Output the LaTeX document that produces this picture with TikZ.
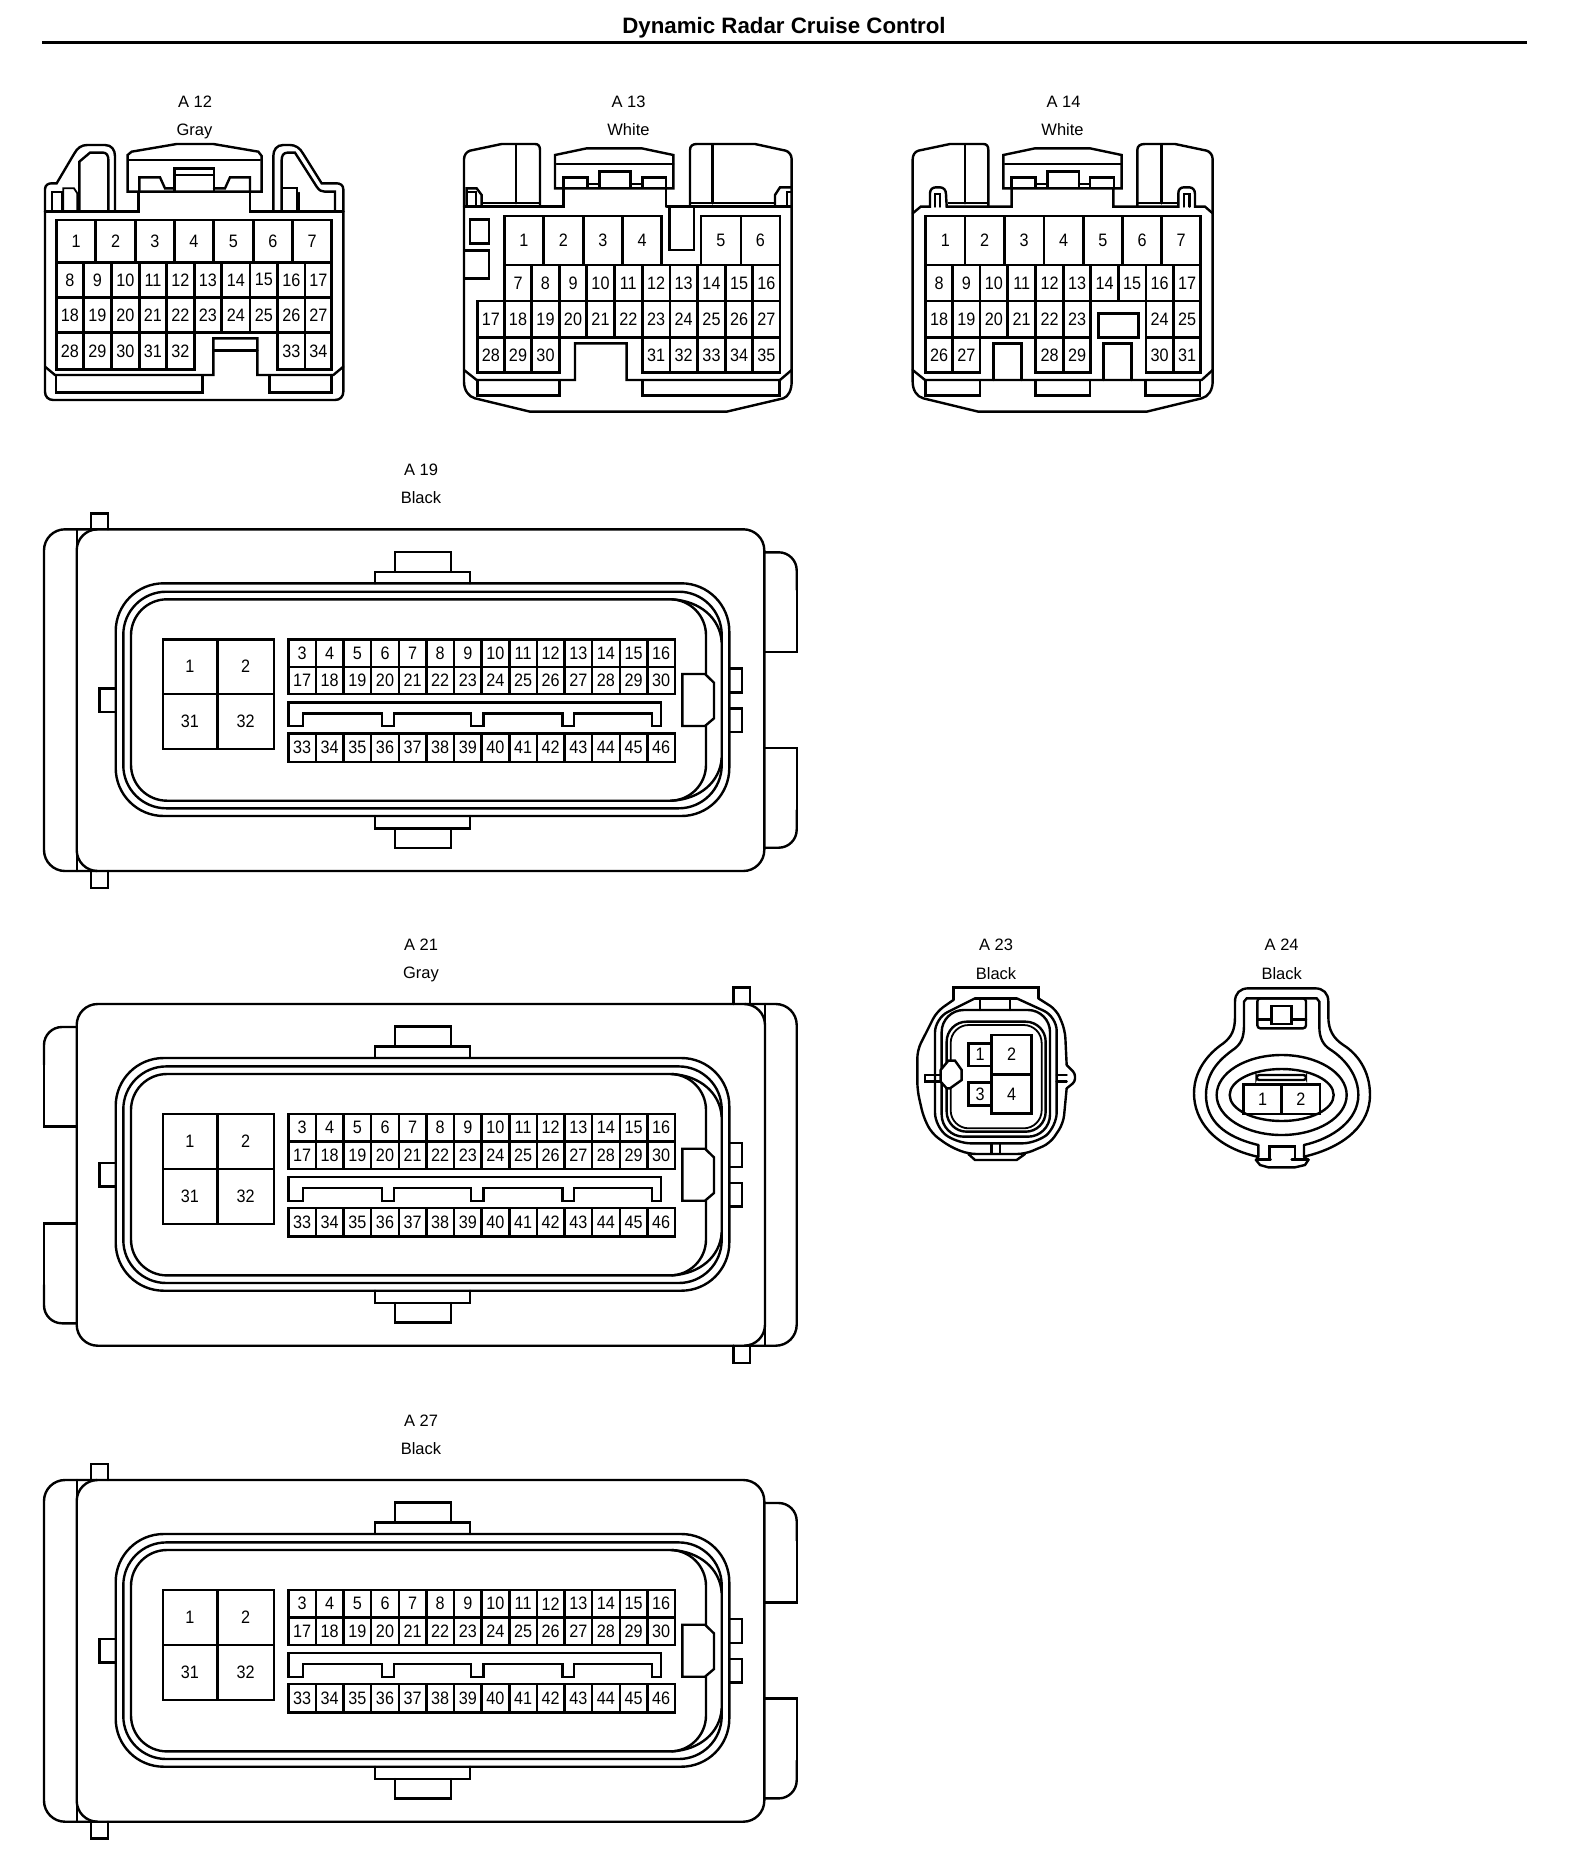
\documentclass[tikz,border=0pt]{standalone}
\usepackage{fontspec}
\setmainfont{Liberation Sans}
\newfontfamily\pinfont[FakeStretch=0.9]{Liberation Sans}
\def\nonexa{none}
\def\cpre{c}
\tikzset{
  part/.style={line width=2.4pt,line join=miter,line cap=round,draw=black},
  thinpart/.style={line width=1.8pt,line cap=round,draw=black},
  pinlabel/.style={inner sep=0pt,font=\pinfont\fontsize{18}{20}\selectfont},
  caption/.style={inner sep=0pt,anchor=base,font=\fontsize{16.5}{18}\selectfont},
  titlelabel/.style={inner sep=0pt,font=\bfseries\fontsize{22.3}{24}\selectfont},
  inzoom/.style={x=.33333pt,y=-.33333pt}
}
% one row of cells: top, bottom, first pin number, list of cell borders
\newcommand\cells[4]{%
  \pgfmathtruncatemacro\cellstart{#3-1}%
  \foreach \xb [remember=\xb as \xa (initially none),count=\ci from \cellstart] in {#4}{%
    \ifx\xa\nonexa\else
      \draw[part] (\xa,#1) rectangle node[pinlabel] (\cpre-\ci) {\ci} (\xb,#2);
    \fi
  }%
}
% the parts shared by the three large connectors (picture pixels, A19 position)
\newcommand\bigbody{%
  % top and bottom latches
  \draw[part] (375,583.3)--(375,571.7)--(470,571.7)--(470,583.3);
  \draw[part] (395,571.7)--(395,551.7)--(450.7,551.7)--(450.7,571.7);
  \draw[part] (375,816)--(375,828.3)--(470,828.3)--(470,816);
  \draw[part] (395,828.3)--(395,847.7)--(450.7,847.7)--(450.7,828.3);
  % seal rings
  \draw[part,rounded corners=48pt] (115.7,583.3) rectangle (729.3,816);
  \draw[part,rounded corners=43pt] (123.3,591.7) rectangle (721.7,808.3);
  \draw[part,rounded corners=36pt] (706,674)--(706,599.3)--(131,599.3)--(131,800.7)--(706,800.7)--(706,726);
  \draw[part] (672,599.3) .. controls (700,601) and (720,618) .. (721.7,642);
  \draw[part] (672,800.7) .. controls (700,799) and (720,782) .. (721.7,758);
  % key and side pins
  \draw[part] (682.3,674)--(705,674)--(714,682.7)--(714,718.3)--(705,726)--(682.3,726)--cycle;
  \draw[part] (115.7,688.3)--(99.3,688.3)--(99.3,711.7)--(115.7,711.7);
  \draw[part] (730,668.3)--(741.7,668.3)--(741.7,692.3)--(730,692.3);
  \draw[part] (730,708.3)--(741.7,708.3)--(741.7,731.7)--(730,731.7);
  % key strip between the cell rows
  \draw[part] (288.3,726)--(288.3,702.3)--(660.7,702.3)--(660.7,726)--(651.7,726)--(651.7,713.3)--(574,713.3)--(574,726)--(562.3,726)--(562.3,713.3)--(483.3,713.3)--(483.3,726)--(471,726)--(471,713.3)--(394,713.3)--(394,726)--(381.7,726)--(381.7,713.3)--(302.7,713.3)--(302.7,726)--cycle;
  % cells
  \draw[part] (162.7,639.3) rectangle node[pinlabel] (\cpre-1) {1} (217.3,694);
  \draw[part] (217.3,639.3) rectangle node[pinlabel] (\cpre-2) {2} (274,694);
  \draw[part] (162.7,694) rectangle node[pinlabel] (\cpre-31) {31} (217.3,749);
  \draw[part] (217.3,694) rectangle node[pinlabel] (\cpre-32) {32} (274,749);
  \cells{639.3}{666.7}{3}{288.3,315.9,343.5,371.2,398.8,426.4,454,481.6,509.3,536.9,564.5,592.1,619.7,647.4,675}
  \cells{666.7}{694}{17}{288.3,315.9,343.5,371.2,398.8,426.4,454,481.6,509.3,536.9,564.5,592.1,619.7,647.4,675}
  \cells{733.3}{761.7}{33}{288.3,315.9,343.5,371.2,398.8,426.4,454,481.6,509.3,536.9,564.5,592.1,619.7,647.4,675}
}
% housing with its cap on the left and tabs on the right
\newcommand\capleft{%
  \draw[part,rounded corners=21pt] (76.7,529.3) rectangle (764.3,871);
  \draw[part,rounded corners=21pt] (97,529.3)--(44,529.3)--(44,871)--(97,871);
  \draw[part] (76.7,529.3)--(76.7,871);
  \draw[part] (91,529.3)--(91,513.3)--(107.7,513.3)--(107.7,529.3);
  \draw[part] (91,871)--(91,887.7)--(107.7,887.7)--(107.7,871);
  \draw[part,rounded corners=18pt] (764.3,552.3)--(796.7,552.3)--(796.7,590);
  \draw[part] (796.7,585)--(796.7,651.7)--(764.3,651.7);
  \draw[part] (764.3,747.7)--(796.7,747.7)--(796.7,815);
  \draw[part,rounded corners=18pt] (796.7,810)--(796.7,847.7)--(764.3,847.7);
}
% housing with its tabs on the left and cap on the right
\newcommand\capright{%
  \draw[part,rounded corners=21pt] (76.7,529.3) rectangle (765,871);
  \draw[part,rounded corners=21pt] (745,529.3)--(796.7,529.3)--(796.7,871)--(745,871);
  \draw[part] (765,529.3)--(765,871);
  \draw[part] (733.3,529.3)--(733.3,512.6)--(750,512.6)--(750,529.3);
  \draw[part] (733.3,871)--(733.3,888)--(750,888)--(750,871);
  \draw[part,rounded corners=18pt] (76.7,552.3)--(44,552.3)--(44,590);
  \draw[part] (44,585)--(44,651.7)--(76.7,651.7);
  \draw[part] (76.7,748.6)--(44,748.6)--(44,815);
  \draw[part,rounded corners=18pt] (44,810)--(44,848.6)--(76.7,848.6);
}
\begin{document}
\begin{tikzpicture}[x=1pt,y=-1pt]
\useasboundingbox (0,0) rectangle (1584,1874);
\fill[white] (0,0) rectangle (1584,1874);
% title
\node[titlelabel] (title) at (784,28) {Dynamic Radar Cruise Control};
\coordinate (ruleL) at (42,42);
\coordinate (ruleR) at (1527,42);
\draw[line width=3pt] (ruleL) -- (ruleR);
% captions
\node[caption] (cA12) at (195,107.5) {A 12};
\node[caption] (gA12) at (194.5,135) {Gray};
\node[caption] (cA13) at (628.5,107.5) {A 13};
\node[caption] (gA13) at (628.5,135) {White};
\node[caption] (cA14) at (1063.5,107.5) {A 14};
\node[caption] (gA14) at (1062.5,135) {White};
\node[caption] (cA19) at (421,475.5) {A 19};
\node[caption] (gA19) at (421,503) {Black};
\node[caption] (cA21) at (421,950.5) {A 21};
\node[caption] (gA21) at (421,978.5) {Gray};
\node[caption] (cA27) at (421,1426.5) {A 27};
\node[caption] (gA27) at (421,1454) {Black};
\node[caption] (cA23) at (996,950.5) {A 23};
\node[caption] (gA23) at (996,979) {Black};
\node[caption] (cA24) at (1281.7,950.5) {A 24};
\node[caption] (gA24) at (1281.7,979) {Black};

% ---------- A12 ----------
\begin{scope}[shift={(0,80)},inzoom]
\def\cpre{a12}
\draw[part] (135,395)--(135,328) .. controls (135,315) and (145,310) .. (155,310)--(170,310)--(222,222) .. controls (232,203) and (245,195) .. (262,195)--(315,195) .. controls (335,195) and (345,210) .. (345,228)--(345,392);
\draw[thinpart] (155,392)--(155,335)--(185,335)--(185,392);
\draw[thinpart] (190,392)--(190,325)--(222,325)--(232,340)--(232,392);
\draw[part] (238,392)--(238,245)--(270,218)--(310,218) .. controls (320,218) and (325,228) .. (325,238)--(325,392);
\draw[part] (135,395)--(415,395)--(415,335);
\draw[part] (750,335)--(750,395)--(1030,395);
\draw[part] (383,335)--(383,225)--(395,215)--(530,192)--(640,192)--(775,215)--(785,228)--(785,335)--cycle;
\draw[part] (388,240)--(780,240);
\draw[part] (418,332)--(418,292)--(480,292)--(495,325)--(523,325);
\draw[part] (523,332)--(523,265)--(642,265)--(642,332);
\draw[thinpart] (525,285)--(640,285);
\draw[part] (642,325)--(675,325)--(690,292)--(750,292)--(750,335);
\draw[part] (1030,395)--(1030,328) .. controls (1030,315) and (1020,310) .. (1010,310)--(965,310)--(910,222) .. controls (900,203) and (885,195) .. (870,195)--(850,195) .. controls (830,195) and (820,210) .. (820,228)--(820,392);
\draw[part] (845,392)--(845,240) .. controls (845,228) and (850,218) .. (862,218)--(885,218)--(950,320) .. controls (958,332) and (965,335) .. (975,335)--(1005,335)--(1005,392);
\draw[thinpart] (850,325)--(890,325)--(890,392);
\draw[thinpart] (898,392)--(898,338);
\draw[part] (135,395)--(135,935) .. controls (135,950) and (145,960) .. (160,960)--(1005,960) .. controls (1020,960) and (1030,950) .. (1030,935)--(1030,395);
\draw[part] (135,860)--(165,885)--(640,885)--(640,775)--(772,775)--(772,885)--(1000,885)--(1030,860);
\draw[part] (640,812)--(772,812);
\draw[part] (168,885)--(168,937)--(607,937)--(607,887);
\draw[part] (808,887)--(808,937)--(995,937)--(995,885);
\cells{420}{547}{1}{170,287,407,523,641,760,878,995}
\cells{547}{652}{8}{170,250,335,418,500,583,665,750,833,915,995}
\cells{652}{758}{18}{170,250,335,418,500,583,665,750,833,915,995}
\cells{758}{868}{28}{170,250,335,418,500,583}
\cells{758}{868}{33}{833,915,995}
\end{scope}

% ---------- A13 ----------
\begin{scope}[shift={(440,80)},inzoom]
\def\cpre{a13}
\draw[part] (300,380)--(300,210) .. controls (300,198) and (295,192) .. (285,192)--(185,192)--(90,212) .. controls (80,215) and (72,225) .. (72,238)--(72,905) .. controls (72,930) and (85,950) .. (105,955)--(270,995)--(860,995)--(1030,955) .. controls (1045,950) and (1055,930) .. (1055,905)--(1055,238) .. controls (1055,225) and (1047,215) .. (1037,212)--(945,192)--(770,192) .. controls (758,192) and (750,198) .. (750,210)--(750,380);
\draw[part] (228,195)--(228,370);
\draw[part] (818,195)--(818,370);
\draw[part] (72,380)--(108,380)--(370,380)--(370,325);
\draw[part] (80,380)--(80,325)--(110,325)--(125,345)--(125,380);
\draw[thinpart] (108,380)--(108,335)--(85,335);
\draw[thinpart] (130,368)--(300,368);
\draw[thinpart] (750,368)--(1003,368);
\draw[part] (680,380)--(1052,380);
\draw[part] (1005,380)--(1005,345)--(1020,322)--(1052,322);
\draw[thinpart] (1040,380)--(1040,335)--(1052,335);
\draw[part] (345,325)--(345,225)--(440,205)--(605,205)--(700,225)--(700,325)--cycle;
\draw[part] (350,252)--(700,252);
\draw[part] (370,322)--(370,293)--(442,293)--(442,322);
\draw[part] (445,312)--(478,312);
\draw[part] (478,322)--(478,275)--(572,275)--(572,322);
\draw[part] (572,312)--(607,312);
\draw[part] (607,322)--(607,293)--(678,293)--(678,380);
\draw[part] (688,380)--(688,510)--(762,510)--(762,380);
\draw[part] (90,418)--(147,418)--(147,490)--(90,490)--cycle;
\draw[part] (74,512)--(147,512)--(147,595)--(74,595);
\draw[part] (72,870)--(110,900)--(405,900)--(405,790)--(560,790)--(560,900)--(1020,900)--(1055,870);
\draw[part] (112,900)--(112,947)--(358,947)--(358,903);
\draw[part] (607,903)--(607,947)--(1018,947)--(1018,900);
\cells{408}{555}{1}{193,310,430,547,665}
\cells{408}{555}{5}{783,903,1020}
\cells{555}{663}{7}{193,275,358,440,523,607,690,772,857,938,1020}
\cells{663}{772}{17}{112,193,275,358,440,523,607,690,772,857,938,1020}
\cells{772}{878}{28}{112,193,275,358}
\cells{772}{878}{31}{607,690,772,857,938,1020}
\end{scope}

% ---------- A14 ----------
\begin{scope}[shift={(890,80)},inzoom]
\def\cpre{a14}
\draw[part] (295,380)--(295,210) .. controls (295,198) and (290,192) .. (280,192)--(180,192)--(85,212) .. controls (75,215) and (68,225) .. (68,238)--(68,905) .. controls (68,930) and (80,950) .. (100,955)--(265,995)--(770,995)--(935,955) .. controls (955,950) and (968,930) .. (968,905)--(968,238) .. controls (968,225) and (960,215) .. (950,212)--(855,192)--(765,192) .. controls (750,192) and (742,198) .. (742,210)--(742,380);
\draw[part] (225,195)--(225,370);
\draw[part] (815,195)--(815,370);
\draw[part] (68,400)--(92,380)--(120,380)--(120,340) .. controls (120,328) and (128,322) .. (138,322)--(150,322) .. controls (160,322) and (168,330) .. (168,342)--(170,380)--(365,380)--(365,325);
\draw[part] (135,380)--(135,342)--(150,342)--(150,380);
\draw[thinpart] (175,368)--(295,368);
\draw[part] (670,325)--(670,380)--(865,380)--(865,340) .. controls (865,328) and (872,322) .. (882,322)--(898,322) .. controls (908,322) and (915,330) .. (915,342)--(915,380)--(945,380)--(968,400);
\draw[part] (882,380)--(882,342)--(898,342)--(898,380);
\draw[thinpart] (745,368)--(865,368);
\draw[part] (340,325)--(340,225)--(435,205)--(600,205)--(695,225)--(695,325)--cycle;
\draw[part] (345,252)--(695,252);
\draw[part] (365,322)--(365,293)--(437,293)--(437,322);
\draw[part] (440,312)--(473,312);
\draw[part] (473,322)--(473,275)--(567,275)--(567,322);
\draw[part] (567,312)--(600,312);
\draw[part] (600,322)--(600,293)--(672,293)--(672,325);
\draw[part] (625,700) rectangle (745,772);
\draw[part] (310,900)--(310,790)--(395,790)--(395,900);
\draw[part] (640,900)--(640,790)--(725,790)--(725,900);
\draw[part] (68,870)--(105,900)--(935,900)--(968,870);
\draw[part] (107,900)--(107,947)--(270,947)--(270,903);
\draw[part] (437,903)--(437,947)--(600,947)--(600,903);
\draw[part] (767,903)--(767,947)--(930,947)--(930,900);
\cells{408}{555}{1}{107,225,343,462,580,697,815,932}
\cells{555}{663}{8}{107,188,270,353,437,520,602,685,768,850,932}
\cells{663}{772}{18}{107,188,270,353,437,520,602}
\cells{663}{772}{24}{768,850,932}
\cells{772}{878}{26}{107,188,270}
\cells{772}{878}{28}{437,520,602}
\cells{772}{878}{30}{768,850,932}
\end{scope}

% ---------- A19 ----------
\begin{scope}
\def\cpre{a19}
\capleft
\bigbody
\end{scope}
% ---------- A21 ----------
\begin{scope}[shift={(0,474.7)}]
\def\cpre{a21}
\capright
\bigbody
\end{scope}
% ---------- A27 ----------
\begin{scope}[shift={(0,950.7)}]
\def\cpre{a27}
\capleft
\bigbody
\end{scope}

% ---------- A23 ----------
\begin{scope}[shift={(900,930)},inzoom]
\def\cpre{a23}
\draw[part] (160,210)--(160,172)--(415,172)--(415,205);
\draw[part,rounded corners=8pt] (160,210)--(110,245)--(85,295)--(52,360)--(52,480)--(70,560)--(95,610)--(150,650)--(205,672)--(375,672)--(450,640)--(490,580)--(500,475);
\draw[part,rounded corners=3pt] (500,475)--(525,455)--(525,430)--(500,405);
\draw[part,rounded corners=8pt] (500,405)--(495,300)--(470,240)--(415,205);
\draw[part,rounded corners=14pt] (225,205)--(105,265)--(105,590)--(170,640)--(410,640)--(470,590)--(470,260)--(350,205);
\draw[part] (225,205)--(350,205);
\draw[part] (240,205)--(240,240);
\draw[part] (330,205)--(330,240);
\draw[part,rounded corners=22pt] (125,240) rectangle (450,620);
\draw[part,rounded corners=20pt] (140,275) rectangle (437,605);
\draw[thinpart,rounded corners=18pt] (152,285) rectangle (425,595);
\draw[part] (75,435)--(122,435);
\draw[part] (75,435)--(75,455)--(122,455);
\draw[part] (470,435)--(500,435);
\draw[part] (470,455)--(500,455);
\fill[white] (122,420)--(145,392)--(165,392)--(185,420)--(185,450)--(150,475)--(140,475)--(122,455)--cycle;
\draw[part] (122,420)--(145,392)--(165,392)--(185,420)--(185,450)--(150,475)--(140,475)--(122,455)--cycle;
\draw[part] (275,640)--(275,670);
\draw[part] (300,640)--(300,670);
\draw[part] (205,672)--(225,690)--(350,690)--(375,672);
\draw[part] (205,340) rectangle node[pinlabel] (a23-1) {1} (275,408);
\draw[part] (205,458) rectangle node[pinlabel] (a23-3) {3} (275,527);
\draw[part] (275,315) rectangle node[pinlabel] (a23-2) {2} (395,433);
\draw[part] (275,433) rectangle node[pinlabel] (a23-4) {4} (395,550);
\end{scope}

% ---------- A24 ----------
\begin{scope}[shift={(1180,930)},inzoom]
\def\cpre{a24}
\draw[part] (232,680) .. controls (100,650) and (42,570) .. (42,490) .. controls (42,410) and (100,360) .. (130,340) .. controls (155,320) and (165,300) .. (165,260)--(165,215) .. controls (165,190) and (180,175) .. (205,175)--(405,175) .. controls (430,175) and (445,190) .. (445,215)--(445,260) .. controls (445,300) and (460,325) .. (490,345) .. controls (530,370) and (570,420) .. (570,495) .. controls (570,580) and (500,650) .. (372,680);
\draw[part] (235,645) .. controls (130,620) and (78,570) .. (78,495) .. controls (78,420) and (130,380) .. (165,355) .. controls (190,335) and (192,310) .. (192,280)--(192,215)--(200,205)--(410,205)--(418,215)--(418,290) .. controls (418,325) and (430,345) .. (450,358) .. controls (500,390) and (535,440) .. (535,495) .. controls (535,570) and (460,625) .. (372,645);
\draw[part] (305,495) ellipse [x radius=65pt,y radius=40pt];
\draw[part] (305,495) ellipse [x radius=52pt,y radius=26pt];
\draw[part,rounded corners=2.5pt] (230,435) rectangle (378,450);
\draw[part] (190,463) rectangle node[pinlabel] (a24-1) {1} (305,552);
\draw[part] (305,463) rectangle node[pinlabel] (a24-2) {2} (420,552);
\draw[part,rounded corners=3pt] (232,295)--(232,205)--(378,205)--(378,295)--cycle;
\draw[part] (232,268)--(275,268);
\draw[part] (335,268)--(378,268);
\draw[part] (275,282) rectangle (335,228);
\draw[part] (235,645)--(235,680)--(228,690)--(240,705)--(265,712)--(345,712)--(375,705)--(385,690)--(372,680)--(372,645);
\draw[part] (268,688)--(268,650)--(345,650)--(345,688);
\draw[part] (230,688)--(272,688);
\draw[part] (335,688)--(385,688);
\end{scope}
\end{tikzpicture}
\end{document}
